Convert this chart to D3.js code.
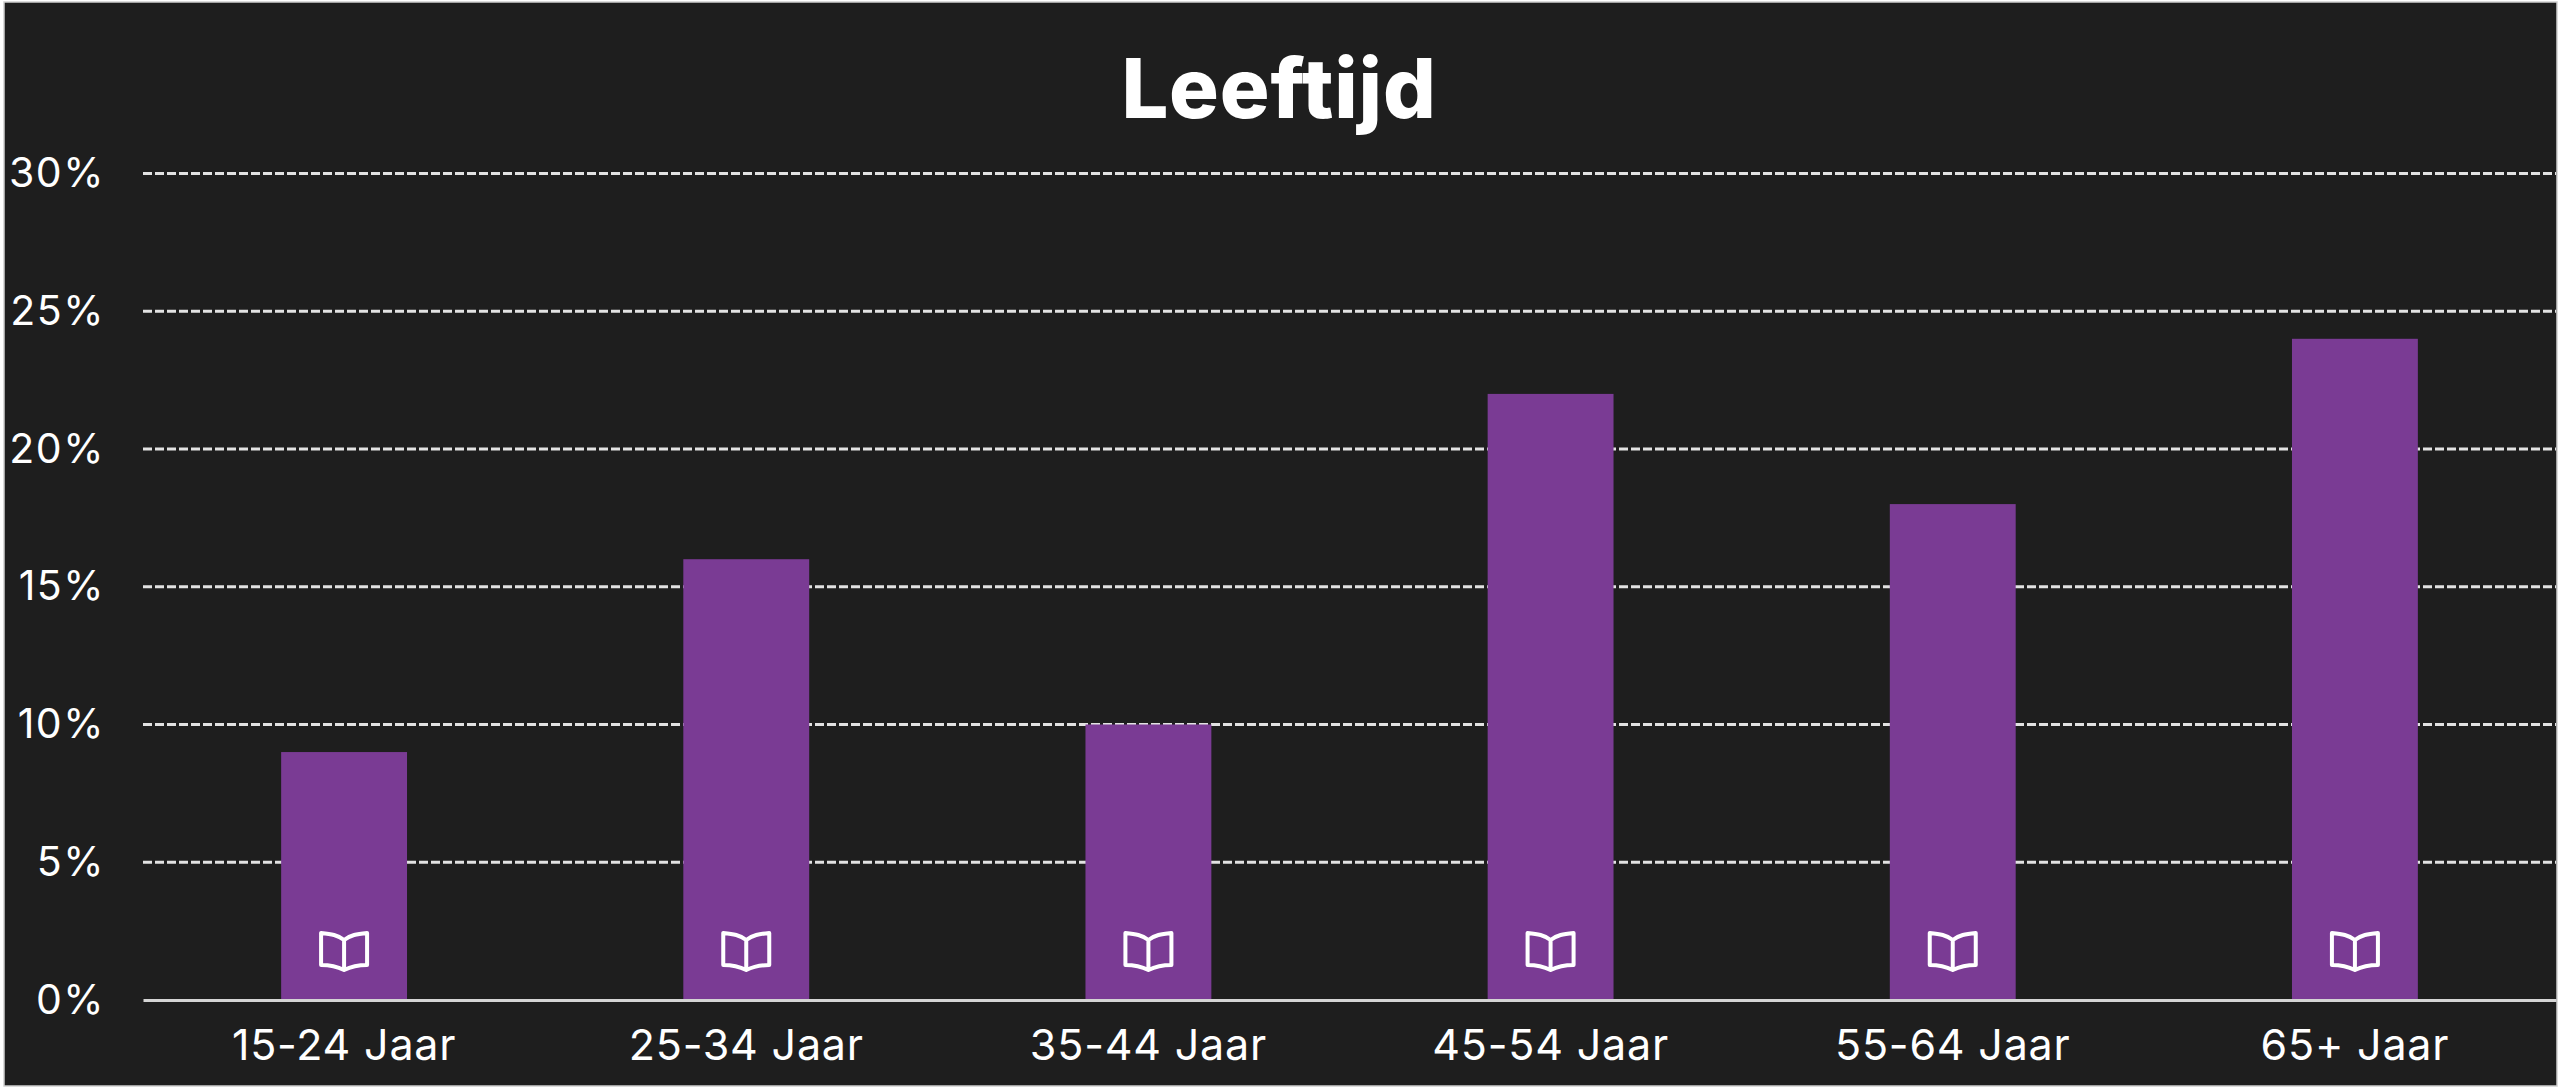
<!DOCTYPE html>
<html><head><meta charset="utf-8">
<script src="https://cdnjs.cloudflare.com/ajax/libs/d3/7.8.5/d3.min.js"></script>
<style>
html,body{margin:0;padding:0;background:#fff;overflow:hidden}
svg{display:block}
text{font-family:Inter,"Open Sans",sans-serif}
</style></head><body>
<svg id="c" width="2562" height="1090"></svg>
<script>
const categories=["15-24 Jaar","25-34 Jaar","35-44 Jaar","45-54 Jaar","55-64 Jaar","65+ Jaar"];
const values=[9,16,10,22,18,24];
const yTicks=[0,5,10,15,20,25,30];
const titleText="Leeftijd";

const svg=d3.select("#c");
svg.append("rect").attr("x",4).attr("y",2).attr("width",2553).attr("height",1084).attr("fill","#1e1e1e").attr("stroke","#cfcfcf").attr("stroke-width",1.5);

const x=d3.scaleBand().domain(categories).range([143,2556]).paddingInner(0.687).paddingOuter(0.3435);
const y=d3.scaleLinear().domain([0,30]).range([1000,173.5]);

const grid=svg.append("g");
grid.selectAll("line").data(yTicks.filter(d=>d>0)).join("line")
 .attr("x1",143).attr("x2",2556).attr("y1",d=>y(d)).attr("y2",d=>y(d))
 .attr("stroke","#e2e2e2").attr("stroke-width",3).attr("stroke-dasharray","9 3");

svg.append("g").selectAll("rect").data(values).join("rect")
 .attr("x",(d,i)=>x(categories[i])).attr("width",x.bandwidth())
 .attr("y",d=>y(d)).attr("height",d=>y(0)-y(d)).attr("fill","#7a3b94");

const axisX=svg.append("g").attr("transform",`translate(0,${y(0)})`)
 .call(d3.axisBottom(x).tickSize(0).tickPadding(0));
axisX.select(".domain").attr("stroke","#d4d4d4").attr("stroke-width",3);
axisX.selectAll("text").attr("fill","#fff").attr("font-size",43).attr("letter-spacing",0.8).attr("dy",0).attr("y",60);

const axisY=svg.append("g").attr("transform","translate(105,0)")
 .call(d3.axisLeft(y).tickValues(yTicks).tickFormat(d=>d+"%").tickSize(0).tickPadding(0));
axisY.select(".domain").remove();
axisY.selectAll("text").attr("fill","#fff").attr("font-size",41).attr("letter-spacing",1.5).attr("dy",0).attr("y",13);

svg.append("text").attr("x",1279).attr("y",118).attr("text-anchor","middle")
 .attr("fill","#fff").attr("font-size",83).attr("letter-spacing",0.8).attr("font-weight",800).text(titleText);

// book icon, centred on each bar
const book="M0,-11 C-6,-16 -13,-17 -23,-18 L-23,14 C-12,14 -6,16 0,19 C6,16 12,14 23,14 L23,-18 C13,-17 6,-16 0,-11 Z M0,-11 L0,19";
svg.append("g").selectAll("path").data(categories).join("path")
 .attr("d",book)
 .attr("transform",d=>`translate(${x(d)+x.bandwidth()/2},951)`)
 .attr("fill","none").attr("stroke","#fff").attr("stroke-width",4).attr("stroke-linejoin","round");
</script></body></html>
